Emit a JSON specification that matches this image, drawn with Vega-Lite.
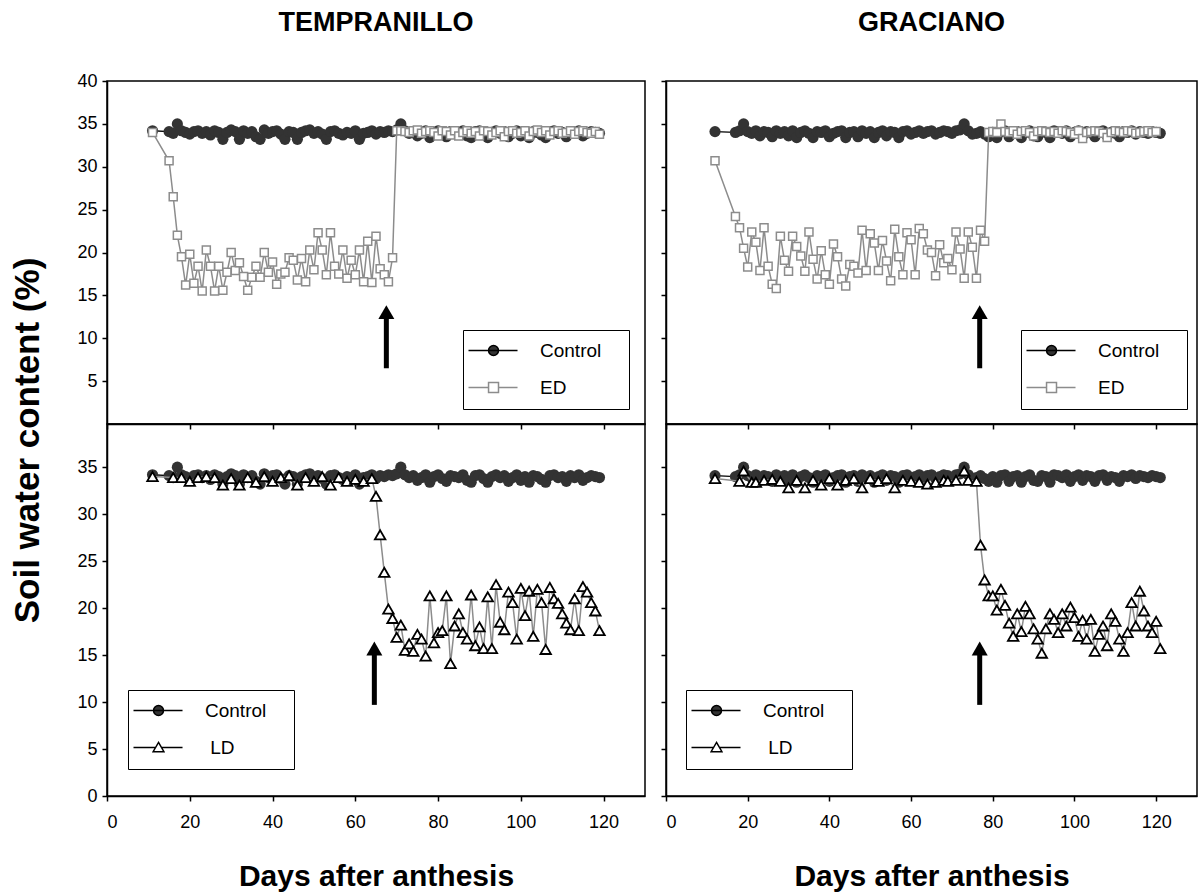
{
"$schema": "https://vega.github.io/schema/vega-lite/v6.json",
"padding": {"left": 9, "top": 8, "right": 2, "bottom": 2},
"background": "#ffffff",
"datasets": {
"tc": [
{"day":11,"swc":34.2,"series":"Control"},{"day":15,"swc":34.1,"series":"Control"},{"day":16,"swc":33.9,"series":"Control"},{"day":17,"swc":35.0,"series":"Control"},{"day":18,"swc":34.2,"series":"Control"},{"day":19,"swc":34.0,"series":"Control"},{"day":20,"swc":33.8,"series":"Control"},{"day":21,"swc":34.1,"series":"Control"},{"day":22,"swc":34.2,"series":"Control"},{"day":23,"swc":33.9,"series":"Control"},{"day":24,"swc":34.1,"series":"Control"},{"day":25,"swc":33.7,"series":"Control"},{"day":26,"swc":34.2,"series":"Control"},{"day":27,"swc":34.0,"series":"Control"},{"day":28,"swc":33.2,"series":"Control"},{"day":29,"swc":34.0,"series":"Control"},{"day":30,"swc":34.3,"series":"Control"},{"day":31,"swc":34.1,"series":"Control"},{"day":32,"swc":33.2,"series":"Control"},{"day":33,"swc":34.2,"series":"Control"},{"day":34,"swc":33.9,"series":"Control"},{"day":35,"swc":34.1,"series":"Control"},{"day":36,"swc":33.5,"series":"Control"},{"day":37,"swc":33.2,"series":"Control"},{"day":38,"swc":34.3,"series":"Control"},{"day":39,"swc":33.9,"series":"Control"},{"day":40,"swc":34.1,"series":"Control"},{"day":41,"swc":34.2,"series":"Control"},{"day":42,"swc":33.8,"series":"Control"},{"day":43,"swc":33.2,"series":"Control"},{"day":44,"swc":34.1,"series":"Control"},{"day":45,"swc":34.0,"series":"Control"},{"day":46,"swc":33.2,"series":"Control"},{"day":47,"swc":34.0,"series":"Control"},{"day":48,"swc":34.2,"series":"Control"},{"day":49,"swc":34.3,"series":"Control"},{"day":50,"swc":33.9,"series":"Control"},{"day":51,"swc":34.1,"series":"Control"},{"day":52,"swc":33.8,"series":"Control"},{"day":53,"swc":33.2,"series":"Control"},{"day":54,"swc":34.1,"series":"Control"},{"day":55,"swc":34.2,"series":"Control"},{"day":56,"swc":33.9,"series":"Control"},{"day":57,"swc":33.7,"series":"Control"},{"day":58,"swc":34.0,"series":"Control"},{"day":59,"swc":33.9,"series":"Control"},{"day":60,"swc":34.2,"series":"Control"},{"day":61,"swc":33.2,"series":"Control"},{"day":62,"swc":33.9,"series":"Control"},{"day":63,"swc":34.0,"series":"Control"},{"day":64,"swc":34.2,"series":"Control"},{"day":65,"swc":33.8,"series":"Control"},{"day":66,"swc":34.1,"series":"Control"},{"day":67,"swc":34.0,"series":"Control"},{"day":68,"swc":34.2,"series":"Control"},{"day":69,"swc":34.1,"series":"Control"},{"day":70,"swc":34.3,"series":"Control"},{"day":71,"swc":35.0,"series":"Control"},{"day":72,"swc":34.2,"series":"Control"},{"day":73,"swc":33.9,"series":"Control"},{"day":74,"swc":34.1,"series":"Control"},{"day":75,"swc":33.6,"series":"Control"},{"day":76,"swc":33.9,"series":"Control"},{"day":77,"swc":34.2,"series":"Control"},{"day":78,"swc":33.4,"series":"Control"},{"day":79,"swc":34.0,"series":"Control"},{"day":80,"swc":34.2,"series":"Control"},{"day":81,"swc":33.8,"series":"Control"},{"day":82,"swc":33.5,"series":"Control"},{"day":83,"swc":34.1,"series":"Control"},{"day":84,"swc":34.0,"series":"Control"},{"day":85,"swc":33.9,"series":"Control"},{"day":86,"swc":34.2,"series":"Control"},{"day":87,"swc":33.6,"series":"Control"},{"day":88,"swc":33.4,"series":"Control"},{"day":89,"swc":34.1,"series":"Control"},{"day":90,"swc":34.2,"series":"Control"},{"day":91,"swc":33.8,"series":"Control"},{"day":92,"swc":33.4,"series":"Control"},{"day":93,"swc":34.0,"series":"Control"},{"day":94,"swc":34.2,"series":"Control"},{"day":95,"swc":33.9,"series":"Control"},{"day":96,"swc":34.1,"series":"Control"},{"day":97,"swc":33.5,"series":"Control"},{"day":98,"swc":33.9,"series":"Control"},{"day":99,"swc":34.2,"series":"Control"},{"day":100,"swc":33.6,"series":"Control"},{"day":101,"swc":34.0,"series":"Control"},{"day":102,"swc":33.4,"series":"Control"},{"day":103,"swc":34.1,"series":"Control"},{"day":104,"swc":34.0,"series":"Control"},{"day":105,"swc":33.7,"series":"Control"},{"day":106,"swc":33.4,"series":"Control"},{"day":107,"swc":34.1,"series":"Control"},{"day":108,"swc":34.2,"series":"Control"},{"day":109,"swc":33.9,"series":"Control"},{"day":110,"swc":34.0,"series":"Control"},{"day":111,"swc":33.5,"series":"Control"},{"day":112,"swc":34.1,"series":"Control"},{"day":113,"swc":33.9,"series":"Control"},{"day":114,"swc":34.2,"series":"Control"},{"day":115,"swc":33.6,"series":"Control"},{"day":116,"swc":33.9,"series":"Control"},{"day":117,"swc":34.1,"series":"Control"},{"day":118,"swc":34.0,"series":"Control"},{"day":119,"swc":33.9,"series":"Control"}
],
"te": [
{"day":11,"swc":34.0,"series":"ED"},{"day":15,"swc":30.7,"series":"ED"},{"day":16,"swc":26.5,"series":"ED"},{"day":17,"swc":22.0,"series":"ED"},{"day":18,"swc":19.5,"series":"ED"},{"day":19,"swc":16.2,"series":"ED"},{"day":20,"swc":19.8,"series":"ED"},{"day":21,"swc":16.4,"series":"ED"},{"day":22,"swc":18.4,"series":"ED"},{"day":23,"swc":15.5,"series":"ED"},{"day":24,"swc":20.3,"series":"ED"},{"day":25,"swc":18.4,"series":"ED"},{"day":26,"swc":15.5,"series":"ED"},{"day":27,"swc":18.4,"series":"ED"},{"day":28,"swc":15.6,"series":"ED"},{"day":29,"swc":17.7,"series":"ED"},{"day":30,"swc":20.0,"series":"ED"},{"day":31,"swc":17.9,"series":"ED"},{"day":32,"swc":18.8,"series":"ED"},{"day":33,"swc":17.2,"series":"ED"},{"day":34,"swc":15.6,"series":"ED"},{"day":35,"swc":17.1,"series":"ED"},{"day":36,"swc":18.4,"series":"ED"},{"day":37,"swc":17.1,"series":"ED"},{"day":38,"swc":20.0,"series":"ED"},{"day":39,"swc":17.7,"series":"ED"},{"day":40,"swc":18.9,"series":"ED"},{"day":41,"swc":16.3,"series":"ED"},{"day":42,"swc":17.5,"series":"ED"},{"day":43,"swc":17.7,"series":"ED"},{"day":44,"swc":19.4,"series":"ED"},{"day":45,"swc":19.1,"series":"ED"},{"day":46,"swc":16.8,"series":"ED"},{"day":47,"swc":19.3,"series":"ED"},{"day":48,"swc":16.6,"series":"ED"},{"day":49,"swc":20.3,"series":"ED"},{"day":50,"swc":18.0,"series":"ED"},{"day":51,"swc":22.3,"series":"ED"},{"day":52,"swc":20.3,"series":"ED"},{"day":53,"swc":17.4,"series":"ED"},{"day":54,"swc":22.3,"series":"ED"},{"day":55,"swc":18.4,"series":"ED"},{"day":56,"swc":17.5,"series":"ED"},{"day":57,"swc":20.3,"series":"ED"},{"day":58,"swc":17.0,"series":"ED"},{"day":59,"swc":19.1,"series":"ED"},{"day":60,"swc":17.4,"series":"ED"},{"day":61,"swc":20.3,"series":"ED"},{"day":62,"swc":16.6,"series":"ED"},{"day":63,"swc":21.3,"series":"ED"},{"day":64,"swc":16.5,"series":"ED"},{"day":65,"swc":21.9,"series":"ED"},{"day":66,"swc":18.1,"series":"ED"},{"day":67,"swc":17.4,"series":"ED"},{"day":68,"swc":16.6,"series":"ED"},{"day":69,"swc":19.4,"series":"ED"},{"day":70,"swc":34.2,"series":"ED"},{"day":71,"swc":34.2,"series":"ED"},{"day":72,"swc":34.1,"series":"ED"},{"day":73,"swc":34.0,"series":"ED"},{"day":74,"swc":34.2,"series":"ED"},{"day":75,"swc":34.3,"series":"ED"},{"day":76,"swc":33.9,"series":"ED"},{"day":77,"swc":34.1,"series":"ED"},{"day":78,"swc":34.2,"series":"ED"},{"day":79,"swc":34.0,"series":"ED"},{"day":80,"swc":33.6,"series":"ED"},{"day":81,"swc":34.2,"series":"ED"},{"day":82,"swc":34.1,"series":"ED"},{"day":83,"swc":33.7,"series":"ED"},{"day":84,"swc":34.2,"series":"ED"},{"day":85,"swc":33.6,"series":"ED"},{"day":86,"swc":34.0,"series":"ED"},{"day":87,"swc":34.2,"series":"ED"},{"day":88,"swc":33.9,"series":"ED"},{"day":89,"swc":34.1,"series":"ED"},{"day":90,"swc":33.6,"series":"ED"},{"day":91,"swc":34.2,"series":"ED"},{"day":92,"swc":34.1,"series":"ED"},{"day":93,"swc":33.7,"series":"ED"},{"day":94,"swc":34.0,"series":"ED"},{"day":95,"swc":34.2,"series":"ED"},{"day":96,"swc":33.5,"series":"ED"},{"day":97,"swc":34.1,"series":"ED"},{"day":98,"swc":34.2,"series":"ED"},{"day":99,"swc":33.9,"series":"ED"},{"day":100,"swc":34.0,"series":"ED"},{"day":101,"swc":34.2,"series":"ED"},{"day":102,"swc":33.6,"series":"ED"},{"day":103,"swc":34.1,"series":"ED"},{"day":104,"swc":34.3,"series":"ED"},{"day":105,"swc":34.0,"series":"ED"},{"day":106,"swc":34.2,"series":"ED"},{"day":107,"swc":33.7,"series":"ED"},{"day":108,"swc":34.1,"series":"ED"},{"day":109,"swc":34.2,"series":"ED"},{"day":110,"swc":33.9,"series":"ED"},{"day":111,"swc":34.0,"series":"ED"},{"day":112,"swc":34.2,"series":"ED"},{"day":113,"swc":33.8,"series":"ED"},{"day":114,"swc":34.1,"series":"ED"},{"day":115,"swc":34.2,"series":"ED"},{"day":116,"swc":34.0,"series":"ED"},{"day":117,"swc":33.9,"series":"ED"},{"day":118,"swc":34.1,"series":"ED"},{"day":119,"swc":33.8,"series":"ED"}
],
"tl": [
{"day":11,"swc":34.0,"series":"LD"},{"day":16,"swc":33.9,"series":"LD"},{"day":18,"swc":33.9,"series":"LD"},{"day":20,"swc":33.5,"series":"LD"},{"day":22,"swc":33.9,"series":"LD"},{"day":24,"swc":34.0,"series":"LD"},{"day":26,"swc":33.9,"series":"LD"},{"day":28,"swc":33.1,"series":"LD"},{"day":30,"swc":33.8,"series":"LD"},{"day":32,"swc":33.1,"series":"LD"},{"day":34,"swc":33.9,"series":"LD"},{"day":36,"swc":33.4,"series":"LD"},{"day":38,"swc":34.0,"series":"LD"},{"day":40,"swc":33.5,"series":"LD"},{"day":42,"swc":33.9,"series":"LD"},{"day":44,"swc":34.1,"series":"LD"},{"day":46,"swc":33.1,"series":"LD"},{"day":48,"swc":33.9,"series":"LD"},{"day":50,"swc":33.5,"series":"LD"},{"day":52,"swc":34.0,"series":"LD"},{"day":54,"swc":33.1,"series":"LD"},{"day":56,"swc":33.9,"series":"LD"},{"day":58,"swc":33.5,"series":"LD"},{"day":60,"swc":33.7,"series":"LD"},{"day":62,"swc":33.5,"series":"LD"},{"day":64,"swc":33.8,"series":"LD"},{"day":65,"swc":31.9,"series":"LD"},{"day":66,"swc":27.8,"series":"LD"},{"day":67,"swc":23.8,"series":"LD"},{"day":68,"swc":19.9,"series":"LD"},{"day":69,"swc":18.9,"series":"LD"},{"day":70,"swc":16.9,"series":"LD"},{"day":71,"swc":18.2,"series":"LD"},{"day":72,"swc":15.5,"series":"LD"},{"day":73,"swc":16.2,"series":"LD"},{"day":74,"swc":15.4,"series":"LD"},{"day":75,"swc":17.2,"series":"LD"},{"day":76,"swc":16.7,"series":"LD"},{"day":77,"swc":14.9,"series":"LD"},{"day":78,"swc":21.3,"series":"LD"},{"day":79,"swc":16.3,"series":"LD"},{"day":80,"swc":17.4,"series":"LD"},{"day":81,"swc":17.6,"series":"LD"},{"day":82,"swc":21.3,"series":"LD"},{"day":83,"swc":14.1,"series":"LD"},{"day":84,"swc":18.1,"series":"LD"},{"day":85,"swc":19.4,"series":"LD"},{"day":86,"swc":17.4,"series":"LD"},{"day":87,"swc":16.7,"series":"LD"},{"day":88,"swc":21.4,"series":"LD"},{"day":89,"swc":16.0,"series":"LD"},{"day":90,"swc":18.0,"series":"LD"},{"day":91,"swc":15.7,"series":"LD"},{"day":92,"swc":21.2,"series":"LD"},{"day":93,"swc":15.7,"series":"LD"},{"day":94,"swc":22.5,"series":"LD"},{"day":95,"swc":18.5,"series":"LD"},{"day":96,"swc":17.7,"series":"LD"},{"day":97,"swc":21.7,"series":"LD"},{"day":98,"swc":20.6,"series":"LD"},{"day":99,"swc":16.7,"series":"LD"},{"day":100,"swc":22.1,"series":"LD"},{"day":101,"swc":19.2,"series":"LD"},{"day":102,"swc":21.8,"series":"LD"},{"day":103,"swc":17.0,"series":"LD"},{"day":104,"swc":22.0,"series":"LD"},{"day":105,"swc":20.6,"series":"LD"},{"day":106,"swc":15.6,"series":"LD"},{"day":107,"swc":22.2,"series":"LD"},{"day":108,"swc":21.0,"series":"LD"},{"day":109,"swc":20.5,"series":"LD"},{"day":110,"swc":19.4,"series":"LD"},{"day":111,"swc":18.4,"series":"LD"},{"day":112,"swc":17.7,"series":"LD"},{"day":113,"swc":21.0,"series":"LD"},{"day":114,"swc":17.6,"series":"LD"},{"day":115,"swc":22.3,"series":"LD"},{"day":116,"swc":21.7,"series":"LD"},{"day":117,"swc":20.6,"series":"LD"},{"day":118,"swc":19.7,"series":"LD"},{"day":119,"swc":17.6,"series":"LD"}
],
"gc": [
{"day":12,"swc":34.1,"series":"Control"},{"day":17,"swc":34.0,"series":"Control"},{"day":18,"swc":34.2,"series":"Control"},{"day":19,"swc":35.0,"series":"Control"},{"day":20,"swc":34.1,"series":"Control"},{"day":21,"swc":33.9,"series":"Control"},{"day":22,"swc":34.2,"series":"Control"},{"day":23,"swc":33.6,"series":"Control"},{"day":24,"swc":34.1,"series":"Control"},{"day":25,"swc":34.0,"series":"Control"},{"day":26,"swc":33.5,"series":"Control"},{"day":27,"swc":34.2,"series":"Control"},{"day":28,"swc":33.9,"series":"Control"},{"day":29,"swc":34.1,"series":"Control"},{"day":30,"swc":33.6,"series":"Control"},{"day":31,"swc":34.2,"series":"Control"},{"day":32,"swc":33.4,"series":"Control"},{"day":33,"swc":34.0,"series":"Control"},{"day":34,"swc":34.2,"series":"Control"},{"day":35,"swc":33.9,"series":"Control"},{"day":36,"swc":33.4,"series":"Control"},{"day":37,"swc":34.1,"series":"Control"},{"day":38,"swc":34.0,"series":"Control"},{"day":39,"swc":34.2,"series":"Control"},{"day":40,"swc":33.5,"series":"Control"},{"day":41,"swc":33.9,"series":"Control"},{"day":42,"swc":34.1,"series":"Control"},{"day":43,"swc":34.2,"series":"Control"},{"day":44,"swc":33.4,"series":"Control"},{"day":45,"swc":34.0,"series":"Control"},{"day":46,"swc":34.1,"series":"Control"},{"day":47,"swc":33.5,"series":"Control"},{"day":48,"swc":34.2,"series":"Control"},{"day":49,"swc":33.9,"series":"Control"},{"day":50,"swc":34.1,"series":"Control"},{"day":51,"swc":33.4,"series":"Control"},{"day":52,"swc":34.0,"series":"Control"},{"day":53,"swc":34.2,"series":"Control"},{"day":54,"swc":33.6,"series":"Control"},{"day":55,"swc":34.1,"series":"Control"},{"day":56,"swc":34.0,"series":"Control"},{"day":57,"swc":33.4,"series":"Control"},{"day":58,"swc":34.1,"series":"Control"},{"day":59,"swc":34.2,"series":"Control"},{"day":60,"swc":33.8,"series":"Control"},{"day":61,"swc":34.0,"series":"Control"},{"day":62,"swc":34.2,"series":"Control"},{"day":63,"swc":33.9,"series":"Control"},{"day":64,"swc":34.1,"series":"Control"},{"day":65,"swc":34.2,"series":"Control"},{"day":66,"swc":33.8,"series":"Control"},{"day":67,"swc":34.0,"series":"Control"},{"day":68,"swc":34.2,"series":"Control"},{"day":69,"swc":34.1,"series":"Control"},{"day":70,"swc":33.9,"series":"Control"},{"day":71,"swc":34.2,"series":"Control"},{"day":72,"swc":34.3,"series":"Control"},{"day":73,"swc":35.0,"series":"Control"},{"day":74,"swc":34.2,"series":"Control"},{"day":75,"swc":33.8,"series":"Control"},{"day":76,"swc":33.9,"series":"Control"},{"day":77,"swc":34.1,"series":"Control"},{"day":78,"swc":33.8,"series":"Control"},{"day":79,"swc":33.5,"series":"Control"},{"day":80,"swc":34.0,"series":"Control"},{"day":81,"swc":33.4,"series":"Control"},{"day":82,"swc":34.1,"series":"Control"},{"day":83,"swc":34.2,"series":"Control"},{"day":84,"swc":33.5,"series":"Control"},{"day":85,"swc":34.0,"series":"Control"},{"day":86,"swc":34.1,"series":"Control"},{"day":87,"swc":33.4,"series":"Control"},{"day":88,"swc":34.0,"series":"Control"},{"day":89,"swc":34.2,"series":"Control"},{"day":90,"swc":33.6,"series":"Control"},{"day":91,"swc":33.5,"series":"Control"},{"day":92,"swc":34.1,"series":"Control"},{"day":93,"swc":34.0,"series":"Control"},{"day":94,"swc":33.4,"series":"Control"},{"day":95,"swc":34.2,"series":"Control"},{"day":96,"swc":34.1,"series":"Control"},{"day":97,"swc":33.9,"series":"Control"},{"day":98,"swc":34.2,"series":"Control"},{"day":99,"swc":33.5,"series":"Control"},{"day":100,"swc":34.0,"series":"Control"},{"day":101,"swc":34.2,"series":"Control"},{"day":102,"swc":33.6,"series":"Control"},{"day":103,"swc":34.1,"series":"Control"},{"day":104,"swc":34.0,"series":"Control"},{"day":105,"swc":33.5,"series":"Control"},{"day":106,"swc":34.1,"series":"Control"},{"day":107,"swc":34.2,"series":"Control"},{"day":108,"swc":33.6,"series":"Control"},{"day":109,"swc":34.0,"series":"Control"},{"day":110,"swc":33.9,"series":"Control"},{"day":111,"swc":33.5,"series":"Control"},{"day":112,"swc":34.1,"series":"Control"},{"day":113,"swc":34.0,"series":"Control"},{"day":114,"swc":34.2,"series":"Control"},{"day":115,"swc":33.8,"series":"Control"},{"day":116,"swc":34.1,"series":"Control"},{"day":117,"swc":34.0,"series":"Control"},{"day":118,"swc":33.9,"series":"Control"},{"day":119,"swc":34.1,"series":"Control"},{"day":120,"swc":34.0,"series":"Control"},{"day":121,"swc":33.9,"series":"Control"}
],
"ge": [
{"day":12,"swc":30.7,"series":"ED"},{"day":17,"swc":24.2,"series":"ED"},{"day":18,"swc":22.9,"series":"ED"},{"day":19,"swc":20.5,"series":"ED"},{"day":20,"swc":18.3,"series":"ED"},{"day":21,"swc":22.4,"series":"ED"},{"day":22,"swc":21.2,"series":"ED"},{"day":23,"swc":17.9,"series":"ED"},{"day":24,"swc":22.9,"series":"ED"},{"day":25,"swc":18.4,"series":"ED"},{"day":26,"swc":16.3,"series":"ED"},{"day":27,"swc":15.8,"series":"ED"},{"day":28,"swc":21.9,"series":"ED"},{"day":29,"swc":19.1,"series":"ED"},{"day":30,"swc":17.8,"series":"ED"},{"day":31,"swc":21.9,"series":"ED"},{"day":32,"swc":20.7,"series":"ED"},{"day":33,"swc":19.6,"series":"ED"},{"day":34,"swc":17.8,"series":"ED"},{"day":35,"swc":22.4,"series":"ED"},{"day":36,"swc":19.2,"series":"ED"},{"day":37,"swc":16.9,"series":"ED"},{"day":38,"swc":20.2,"series":"ED"},{"day":39,"swc":17.4,"series":"ED"},{"day":40,"swc":16.3,"series":"ED"},{"day":41,"swc":21.0,"series":"ED"},{"day":42,"swc":19.5,"series":"ED"},{"day":43,"swc":16.9,"series":"ED"},{"day":44,"swc":16.1,"series":"ED"},{"day":45,"swc":18.6,"series":"ED"},{"day":46,"swc":18.4,"series":"ED"},{"day":47,"swc":17.6,"series":"ED"},{"day":48,"swc":22.6,"series":"ED"},{"day":49,"swc":17.9,"series":"ED"},{"day":50,"swc":22.2,"series":"ED"},{"day":51,"swc":21.1,"series":"ED"},{"day":52,"swc":17.9,"series":"ED"},{"day":53,"swc":21.4,"series":"ED"},{"day":54,"swc":19.0,"series":"ED"},{"day":55,"swc":16.7,"series":"ED"},{"day":56,"swc":22.7,"series":"ED"},{"day":57,"swc":19.5,"series":"ED"},{"day":58,"swc":17.4,"series":"ED"},{"day":59,"swc":22.3,"series":"ED"},{"day":60,"swc":21.5,"series":"ED"},{"day":61,"swc":17.4,"series":"ED"},{"day":62,"swc":22.8,"series":"ED"},{"day":63,"swc":22.2,"series":"ED"},{"day":64,"swc":20.3,"series":"ED"},{"day":65,"swc":20.0,"series":"ED"},{"day":66,"swc":17.3,"series":"ED"},{"day":67,"swc":20.9,"series":"ED"},{"day":68,"swc":18.8,"series":"ED"},{"day":69,"swc":19.3,"series":"ED"},{"day":70,"swc":18.0,"series":"ED"},{"day":71,"swc":22.4,"series":"ED"},{"day":72,"swc":20.4,"series":"ED"},{"day":73,"swc":17.0,"series":"ED"},{"day":74,"swc":22.4,"series":"ED"},{"day":75,"swc":20.6,"series":"ED"},{"day":76,"swc":17.0,"series":"ED"},{"day":77,"swc":22.6,"series":"ED"},{"day":78,"swc":21.3,"series":"ED"},{"day":79,"swc":34.0,"series":"ED"},{"day":80,"swc":34.1,"series":"ED"},{"day":81,"swc":34.0,"series":"ED"},{"day":82,"swc":35.0,"series":"ED"},{"day":83,"swc":34.1,"series":"ED"},{"day":84,"swc":34.0,"series":"ED"},{"day":85,"swc":34.2,"series":"ED"},{"day":86,"swc":33.8,"series":"ED"},{"day":87,"swc":34.1,"series":"ED"},{"day":88,"swc":34.2,"series":"ED"},{"day":89,"swc":34.0,"series":"ED"},{"day":90,"swc":33.6,"series":"ED"},{"day":91,"swc":34.1,"series":"ED"},{"day":92,"swc":34.2,"series":"ED"},{"day":93,"swc":34.1,"series":"ED"},{"day":94,"swc":34.0,"series":"ED"},{"day":95,"swc":34.1,"series":"ED"},{"day":96,"swc":33.9,"series":"ED"},{"day":97,"swc":34.2,"series":"ED"},{"day":98,"swc":34.1,"series":"ED"},{"day":99,"swc":34.0,"series":"ED"},{"day":100,"swc":33.8,"series":"ED"},{"day":101,"swc":34.2,"series":"ED"},{"day":102,"swc":33.3,"series":"ED"},{"day":103,"swc":34.0,"series":"ED"},{"day":104,"swc":34.1,"series":"ED"},{"day":105,"swc":34.2,"series":"ED"},{"day":106,"swc":34.1,"series":"ED"},{"day":107,"swc":33.9,"series":"ED"},{"day":108,"swc":33.4,"series":"ED"},{"day":109,"swc":34.0,"series":"ED"},{"day":110,"swc":34.2,"series":"ED"},{"day":111,"swc":34.1,"series":"ED"},{"day":112,"swc":34.0,"series":"ED"},{"day":113,"swc":34.2,"series":"ED"},{"day":114,"swc":34.1,"series":"ED"},{"day":115,"swc":33.9,"series":"ED"},{"day":116,"swc":34.0,"series":"ED"},{"day":117,"swc":34.1,"series":"ED"},{"day":118,"swc":34.2,"series":"ED"},{"day":119,"swc":34.0,"series":"ED"},{"day":120,"swc":34.1,"series":"ED"}
],
"gl": [
{"day":12,"swc":33.8,"series":"LD"},{"day":18,"swc":33.5,"series":"LD"},{"day":19,"swc":34.6,"series":"LD"},{"day":21,"swc":33.4,"series":"LD"},{"day":22,"swc":33.4,"series":"LD"},{"day":24,"swc":33.6,"series":"LD"},{"day":26,"swc":33.7,"series":"LD"},{"day":28,"swc":33.5,"series":"LD"},{"day":30,"swc":32.8,"series":"LD"},{"day":32,"swc":33.6,"series":"LD"},{"day":34,"swc":32.8,"series":"LD"},{"day":36,"swc":33.6,"series":"LD"},{"day":38,"swc":33.1,"series":"LD"},{"day":40,"swc":33.8,"series":"LD"},{"day":42,"swc":33.1,"series":"LD"},{"day":44,"swc":33.6,"series":"LD"},{"day":46,"swc":33.8,"series":"LD"},{"day":48,"swc":32.8,"series":"LD"},{"day":50,"swc":33.8,"series":"LD"},{"day":52,"swc":33.5,"series":"LD"},{"day":54,"swc":33.8,"series":"LD"},{"day":56,"swc":32.8,"series":"LD"},{"day":58,"swc":33.6,"series":"LD"},{"day":60,"swc":33.5,"series":"LD"},{"day":62,"swc":33.4,"series":"LD"},{"day":64,"swc":33.2,"series":"LD"},{"day":66,"swc":33.4,"series":"LD"},{"day":68,"swc":33.6,"series":"LD"},{"day":69,"swc":33.5,"series":"LD"},{"day":71,"swc":33.6,"series":"LD"},{"day":73,"swc":34.6,"series":"LD"},{"day":74,"swc":33.6,"series":"LD"},{"day":76,"swc":33.5,"series":"LD"},{"day":77,"swc":26.7,"series":"LD"},{"day":78,"swc":23.0,"series":"LD"},{"day":79,"swc":21.3,"series":"LD"},{"day":80,"swc":21.3,"series":"LD"},{"day":81,"swc":19.8,"series":"LD"},{"day":82,"swc":22.0,"series":"LD"},{"day":83,"swc":20.3,"series":"LD"},{"day":84,"swc":18.4,"series":"LD"},{"day":85,"swc":17.0,"series":"LD"},{"day":86,"swc":19.4,"series":"LD"},{"day":87,"swc":17.5,"series":"LD"},{"day":88,"swc":20.2,"series":"LD"},{"day":89,"swc":19.4,"series":"LD"},{"day":90,"swc":17.8,"series":"LD"},{"day":91,"swc":16.7,"series":"LD"},{"day":92,"swc":15.2,"series":"LD"},{"day":93,"swc":17.8,"series":"LD"},{"day":94,"swc":19.4,"series":"LD"},{"day":95,"swc":18.8,"series":"LD"},{"day":96,"swc":17.4,"series":"LD"},{"day":97,"swc":19.4,"series":"LD"},{"day":98,"swc":18.1,"series":"LD"},{"day":99,"swc":20.1,"series":"LD"},{"day":100,"swc":19.0,"series":"LD"},{"day":101,"swc":17.0,"series":"LD"},{"day":102,"swc":18.7,"series":"LD"},{"day":103,"swc":16.7,"series":"LD"},{"day":104,"swc":18.8,"series":"LD"},{"day":105,"swc":15.4,"series":"LD"},{"day":106,"swc":17.2,"series":"LD"},{"day":107,"swc":18.1,"series":"LD"},{"day":108,"swc":16.0,"series":"LD"},{"day":109,"swc":19.4,"series":"LD"},{"day":110,"swc":18.6,"series":"LD"},{"day":111,"swc":16.7,"series":"LD"},{"day":112,"swc":15.4,"series":"LD"},{"day":113,"swc":17.4,"series":"LD"},{"day":114,"swc":20.6,"series":"LD"},{"day":115,"swc":18.1,"series":"LD"},{"day":116,"swc":21.8,"series":"LD"},{"day":117,"swc":19.7,"series":"LD"},{"day":118,"swc":18.1,"series":"LD"},{"day":119,"swc":17.4,"series":"LD"},{"day":120,"swc":18.6,"series":"LD"},{"day":121,"swc":15.7,"series":"LD"}
],
"arrows": [
{"panel":"TE","day":67.5,"swc":6.5,"swc2":13.05},
{"panel":"GE","day":76.8,"swc":6.5,"swc2":13.05},
{"panel":"TL","day":64.6,"swc":9.7,"swc2":15.7},
{"panel":"GL","day":76.8,"swc":9.7,"swc2":15.7}
]
},
"concat": [
{
"width": 538, "height": 343,
"title": {"text": "TEMPRANILLO", "offset": 14, "baseline": "alphabetic", "frame": "group"},
"encoding": {
"x": {"field": "day", "type": "quantitative", "scale": {"domain": [0, 130], "nice": false, "zero": false}, "axis": {"values": [0,20,40,60,80,100,120], "labels": false, "title": null}},
"y": {"field": "swc", "type": "quantitative", "scale": {"domain": [0, 40], "nice": false}, "axis": {"values": [5,10,15,20,25,30,35,40], "title": null, "labelPadding": 5}}
},
"layer": [
{"data": {"name": "tc"}, "mark": {"type": "line", "color": "#000000", "strokeWidth": 1.3}, "encoding": {}},
{"data": {"name": "tc"}, "mark": {"type": "point", "shape": "circle", "filled": true, "size": 125, "color": "#333333", "opacity": 1}, "encoding": {}},
{"data": {"name": "te"}, "mark": {"type": "line", "color": "#8c8c8c", "strokeWidth": 1.5}, "encoding": {}},
{"data": {"name": "te"}, "mark": {"type": "point", "shape": "square", "filled": true, "fill": "#ffffff", "stroke": "#8c8c8c", "strokeWidth": 1.5, "size": 64, "opacity": 1}, "encoding": {}},
{"data": {"name": "arrows"}, "transform": [{"filter": "datum.panel === 'TE'"}], "mark": {"type": "rule", "color": "#000000", "strokeWidth": 5}, "encoding": {"y2": {"field": "swc2"}}},
{"data": {"name": "arrows"}, "transform": [{"filter": "datum.panel === 'TE'"}], "mark": {"type": "point", "shape": "triangle-up", "filled": true, "color": "#000000", "size": 256, "opacity": 1}, "encoding": {"y": {"field": "swc2", "type": "quantitative"}}},
{"data": {"name": "tc"}, "mark": {"type": "point", "filled": true, "opacity": 0, "size": 144},
"encoding": {
"shape": {"field": "series", "type": "nominal", "scale": {"domain": ["Control","ED"], "range": ["M-2.5,0H5.67M2.5,0A0.83,0.83,0,1,1,0.84,0A0.83,0.83,0,1,1,2.5,0Z","M-2.5,0H0.84M2.5,0H5.67M0.84,-0.83H2.5V0.83H0.84Z"]}, "legend": {"orient": "none", "legendX": 356, "legendY": 249, "title": null, "strokeColor": "#000000", "fillColor": "#ffffff", "padding": 11, "rowPadding": 17, "labelFont": "Liberation Sans", "labelFontSize": 19, "labelColor": "#000000", "labelOffset": 47, "symbolSize": 144, "symbolStrokeWidth": 1.5, "symbolOpacity": 1, "labelExpr": "datum.label + '\u00a0\u00a0\u00a0\u200b'"}},
"fill": {"field": "series", "type": "nominal", "scale": {"domain": ["Control","ED"], "range": ["#333333","#ffffff"]}},
"stroke": {"field": "series", "type": "nominal", "scale": {"domain": ["Control","ED"], "range": ["#000000","#8c8c8c"]}}
}}
]
},
{
"width": 531, "height": 343,
"title": {"text": "GRACIANO", "offset": 22, "baseline": "alphabetic", "frame": "group"},
"encoding": {
"x": {"field": "day", "type": "quantitative", "scale": {"domain": [0, 130], "nice": false, "zero": false}, "axis": {"values": [0,20,40,60,80,100,120], "labels": false, "title": null}},
"y": {"field": "swc", "type": "quantitative", "scale": {"domain": [0, 40], "nice": false}, "axis": {"values": [5,10,15,20,25,30,35,40], "title": null, "labels": false}}
},
"layer": [
{"data": {"name": "gc"}, "mark": {"type": "line", "color": "#000000", "strokeWidth": 1.3}, "encoding": {}},
{"data": {"name": "gc"}, "mark": {"type": "point", "shape": "circle", "filled": true, "size": 125, "color": "#333333", "opacity": 1}, "encoding": {}},
{"data": {"name": "ge"}, "mark": {"type": "line", "color": "#8c8c8c", "strokeWidth": 1.5}, "encoding": {}},
{"data": {"name": "ge"}, "mark": {"type": "point", "shape": "square", "filled": true, "fill": "#ffffff", "stroke": "#8c8c8c", "strokeWidth": 1.5, "size": 64, "opacity": 1}, "encoding": {}},
{"data": {"name": "arrows"}, "transform": [{"filter": "datum.panel === 'GE'"}], "mark": {"type": "rule", "color": "#000000", "strokeWidth": 5}, "encoding": {"y2": {"field": "swc2"}}},
{"data": {"name": "arrows"}, "transform": [{"filter": "datum.panel === 'GE'"}], "mark": {"type": "point", "shape": "triangle-up", "filled": true, "color": "#000000", "size": 256, "opacity": 1}, "encoding": {"y": {"field": "swc2", "type": "quantitative"}}},
{"data": {"name": "gc"}, "mark": {"type": "point", "filled": true, "opacity": 0, "size": 144},
"encoding": {
"shape": {"field": "series", "type": "nominal", "scale": {"domain": ["Control","ED"], "range": ["M-2.5,0H5.67M2.5,0A0.83,0.83,0,1,1,0.84,0A0.83,0.83,0,1,1,2.5,0Z","M-2.5,0H0.84M2.5,0H5.67M0.84,-0.83H2.5V0.83H0.84Z"]}, "legend": {"orient": "none", "legendX": 355, "legendY": 249, "title": null, "strokeColor": "#000000", "fillColor": "#ffffff", "padding": 11, "rowPadding": 17, "labelFont": "Liberation Sans", "labelFontSize": 19, "labelColor": "#000000", "labelOffset": 47, "symbolSize": 144, "symbolStrokeWidth": 1.5, "symbolOpacity": 1, "labelExpr": "datum.label + '\u00a0\u00a0\u00a0\u200b'"}},
"fill": {"field": "series", "type": "nominal", "scale": {"domain": ["Control","ED"], "range": ["#333333","#ffffff"]}},
"stroke": {"field": "series", "type": "nominal", "scale": {"domain": ["Control","ED"], "range": ["#000000","#8c8c8c"]}}
}}
]
},
{
"width": 538, "height": 372,
"encoding": {
"x": {"field": "day", "type": "quantitative", "scale": {"domain": [0, 130], "nice": false, "zero": false}, "axis": {"values": [0,20,40,60,80,100,120], "title": "Days after anthesis", "labelPadding": 12, "titleY": 80, "titleBaseline": "middle"}},
"y": {"field": "swc", "type": "quantitative", "scale": {"domain": [0, 39.6], "nice": false}, "axis": {"values": [0,5,10,15,20,25,30,35], "title": "Soil water content (%)", "labelPadding": 5, "titleX": -80, "titleY": 16, "titleAngle": -90, "titleAlign": "center", "titleBaseline": "middle", "titleFontSize": 35}}
},
"layer": [
{"data": {"name": "tc"}, "mark": {"type": "line", "color": "#000000", "strokeWidth": 1.3}, "encoding": {}},
{"data": {"name": "tc"}, "mark": {"type": "point", "shape": "circle", "filled": true, "size": 125, "color": "#333333", "opacity": 1}, "encoding": {}},
{"data": {"name": "tl"}, "mark": {"type": "line", "color": "#8c8c8c", "strokeWidth": 1.5}, "encoding": {}},
{"data": {"name": "tl"}, "mark": {"type": "point", "shape": "triangle-up", "filled": true, "fill": "#ffffff", "stroke": "#000000", "strokeWidth": 1.8, "size": 110, "opacity": 1}, "encoding": {}},
{"data": {"name": "arrows"}, "transform": [{"filter": "datum.panel === 'TL'"}], "mark": {"type": "rule", "color": "#000000", "strokeWidth": 5}, "encoding": {"y2": {"field": "swc2"}}},
{"data": {"name": "arrows"}, "transform": [{"filter": "datum.panel === 'TL'"}], "mark": {"type": "point", "shape": "triangle-up", "filled": true, "color": "#000000", "size": 256, "opacity": 1}, "encoding": {"y": {"field": "swc2", "type": "quantitative"}}},
{"data": {"name": "tc"}, "mark": {"type": "point", "filled": true, "opacity": 0, "size": 144},
"encoding": {
"shape": {"field": "series", "type": "nominal", "scale": {"domain": ["Control","LD"], "range": ["M-2.5,0H5.67M2.5,0A0.83,0.83,0,1,1,0.84,0A0.83,0.83,0,1,1,2.5,0Z","M-2.5,0H1.18M2.16,0H5.67M1.67,-0.85L2.57,0.7H0.77Z"]}, "legend": {"orient": "none", "legendX": 21, "legendY": 266, "title": null, "strokeColor": "#000000", "fillColor": "#ffffff", "padding": 11, "rowPadding": 17, "labelFont": "Liberation Sans", "labelFontSize": 19, "labelColor": "#000000", "labelOffset": 47, "symbolSize": 144, "symbolStrokeWidth": 1.5, "symbolOpacity": 1, "labelExpr": "(datum.label === 'LD' ? '\u200b\u00a0' : '') + datum.label + '\u00a0\u00a0\u00a0\u200b'"}},
"fill": {"field": "series", "type": "nominal", "scale": {"domain": ["Control","LD"], "range": ["#333333","#ffffff"]}},
"stroke": {"field": "series", "type": "nominal", "scale": {"domain": ["Control","LD"], "range": ["#000000","#000000"]}}
}}
]
},
{
"width": 531, "height": 372,
"encoding": {
"x": {"field": "day", "type": "quantitative", "scale": {"domain": [0, 130], "nice": false, "zero": false}, "axis": {"values": [0,20,40,60,80,100,120], "title": "Days after anthesis", "labelPadding": 12, "titleY": 80, "titleBaseline": "middle"}},
"y": {"field": "swc", "type": "quantitative", "scale": {"domain": [0, 39.6], "nice": false}, "axis": {"values": [0,5,10,15,20,25,30,35], "title": null, "labels": false}}
},
"layer": [
{"data": {"name": "gc"}, "mark": {"type": "line", "color": "#000000", "strokeWidth": 1.3}, "encoding": {}},
{"data": {"name": "gc"}, "mark": {"type": "point", "shape": "circle", "filled": true, "size": 125, "color": "#333333", "opacity": 1}, "encoding": {}},
{"data": {"name": "gl"}, "mark": {"type": "line", "color": "#8c8c8c", "strokeWidth": 1.5}, "encoding": {}},
{"data": {"name": "gl"}, "mark": {"type": "point", "shape": "triangle-up", "filled": true, "fill": "#ffffff", "stroke": "#000000", "strokeWidth": 1.8, "size": 110, "opacity": 1}, "encoding": {}},
{"data": {"name": "arrows"}, "transform": [{"filter": "datum.panel === 'GL'"}], "mark": {"type": "rule", "color": "#000000", "strokeWidth": 5}, "encoding": {"y2": {"field": "swc2"}}},
{"data": {"name": "arrows"}, "transform": [{"filter": "datum.panel === 'GL'"}], "mark": {"type": "point", "shape": "triangle-up", "filled": true, "color": "#000000", "size": 256, "opacity": 1}, "encoding": {"y": {"field": "swc2", "type": "quantitative"}}},
{"data": {"name": "gc"}, "mark": {"type": "point", "filled": true, "opacity": 0, "size": 144},
"encoding": {
"shape": {"field": "series", "type": "nominal", "scale": {"domain": ["Control","LD"], "range": ["M-2.5,0H5.67M2.5,0A0.83,0.83,0,1,1,0.84,0A0.83,0.83,0,1,1,2.5,0Z","M-2.5,0H1.18M2.16,0H5.67M1.67,-0.85L2.57,0.7H0.77Z"]}, "legend": {"orient": "none", "legendX": 20, "legendY": 266, "title": null, "strokeColor": "#000000", "fillColor": "#ffffff", "padding": 11, "rowPadding": 17, "labelFont": "Liberation Sans", "labelFontSize": 19, "labelColor": "#000000", "labelOffset": 47, "symbolSize": 144, "symbolStrokeWidth": 1.5, "symbolOpacity": 1, "labelExpr": "(datum.label === 'LD' ? '\u200b\u00a0' : '') + datum.label + '\u00a0\u00a0\u00a0\u200b'"}},
"fill": {"field": "series", "type": "nominal", "scale": {"domain": ["Control","LD"], "range": ["#333333","#ffffff"]}},
"stroke": {"field": "series", "type": "nominal", "scale": {"domain": ["Control","LD"], "range": ["#000000","#000000"]}}
}}
]
}
],
"columns": 2,
"spacing": {"row": 0, "column": 21},
"bounds": "flush",
"resolve": {
"scale": {"x": "independent", "y": "independent", "shape": "independent", "fill": "independent", "stroke": "independent"},
"legend": {"shape": "independent", "fill": "independent", "stroke": "independent"}
},
"config": {
"view": {"stroke": "#000000", "strokeWidth": 1.5},
"axis": {"grid": false, "domainColor": "#000000", "domainWidth": 1.5, "tickColor": "#000000", "tickWidth": 1.5, "tickSize": 5, "labelFont": "Liberation Sans", "labelFontSize": 18, "labelColor": "#000000", "titleFont": "Liberation Sans", "titleFontSize": 30, "titleFontWeight": "bold", "titleColor": "#000000"},
"title": {"font": "Liberation Sans", "fontSize": 27, "fontWeight": "bold", "color": "#000000", "anchor": "middle"},
"legend": {"symbolOpacity": 1}
}
}
